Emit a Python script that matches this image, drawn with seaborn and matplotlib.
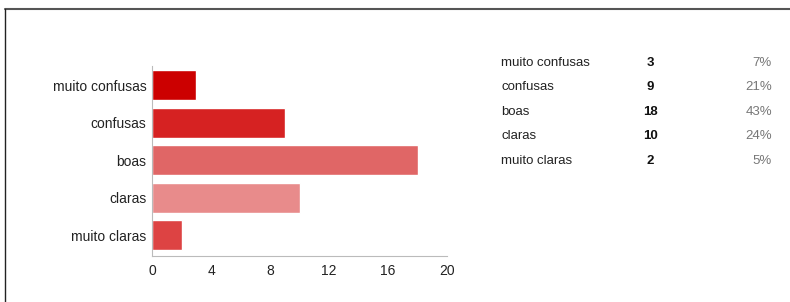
import matplotlib
matplotlib.use("Agg")
import matplotlib.pyplot as plt
from matplotlib.lines import Line2D
import seaborn as sns
import pandas as pd

categories = ['muito confusas', 'confusas', 'boas', 'claras', 'muito claras']
counts = [3, 9, 18, 10, 2]
percents = ['7%', '21%', '43%', '24%', '5%']
colors = ['#cc0000', '#d62222', '#e06666', '#e88b8b', '#dd4343']
xticks = [0, 4, 8, 12, 16, 20]

sns.set_style('white')
plt.rcParams['font.family'] = ['Liberation Sans', 'DejaVu Sans']

df = pd.DataFrame({'resposta': categories, 'n': counts})

fig = plt.figure(figsize=(7.9, 3.02), dpi=100)
ax = fig.add_axes([152 / 790, 1 - 256 / 302, 295 / 790, 190 / 302])

sns.barplot(data=df, x='n', y='resposta', hue='resposta', palette=colors,
            order=categories, width=0.8, legend=False, ax=ax, saturation=1)

ax.set_xlim(0, 20)
ax.set_ylim(4.56, -0.507)
ax.set_xticks(xticks)
ax.set_xlabel('')
ax.set_ylabel('')
for s in ['top', 'right']:
    ax.spines[s].set_visible(False)
ax.spines['left'].set_color('#bbbbbb')
ax.spines['bottom'].set_color('#bbbbbb')
ax.tick_params(axis='y', length=3, color='#bbbbbb', labelsize=10, labelcolor='#222222', pad=1)
ax.tick_params(axis='x', length=0, labelsize=10, labelcolor='#222222', pad=6)

# table on the right
row_y = [63, 87, 112, 136, 161]
for cat, n, p, y in zip(categories, counts, percents, row_y):
    yf = 1 - y / 302
    fig.text(501 / 790, yf, cat, fontsize=9.5, color='#222222', va='center', ha='left')
    fig.text(650 / 790, yf, str(n), fontsize=9.5, color='#111111', va='center',
             ha='center', fontweight='bold')
    fig.text(772 / 790, yf, p, fontsize=9.5, color='#777777', va='center', ha='right')

# frame lines
fig.add_artist(Line2D([5 / 790, 1], [1 - 9 / 302, 1 - 9 / 302], color='#555555', lw=1.5))
fig.add_artist(Line2D([5 / 790, 5 / 790], [0, 1 - 9 / 302], color='#222222', lw=1))

fig.savefig('out.png', dpi=100)
